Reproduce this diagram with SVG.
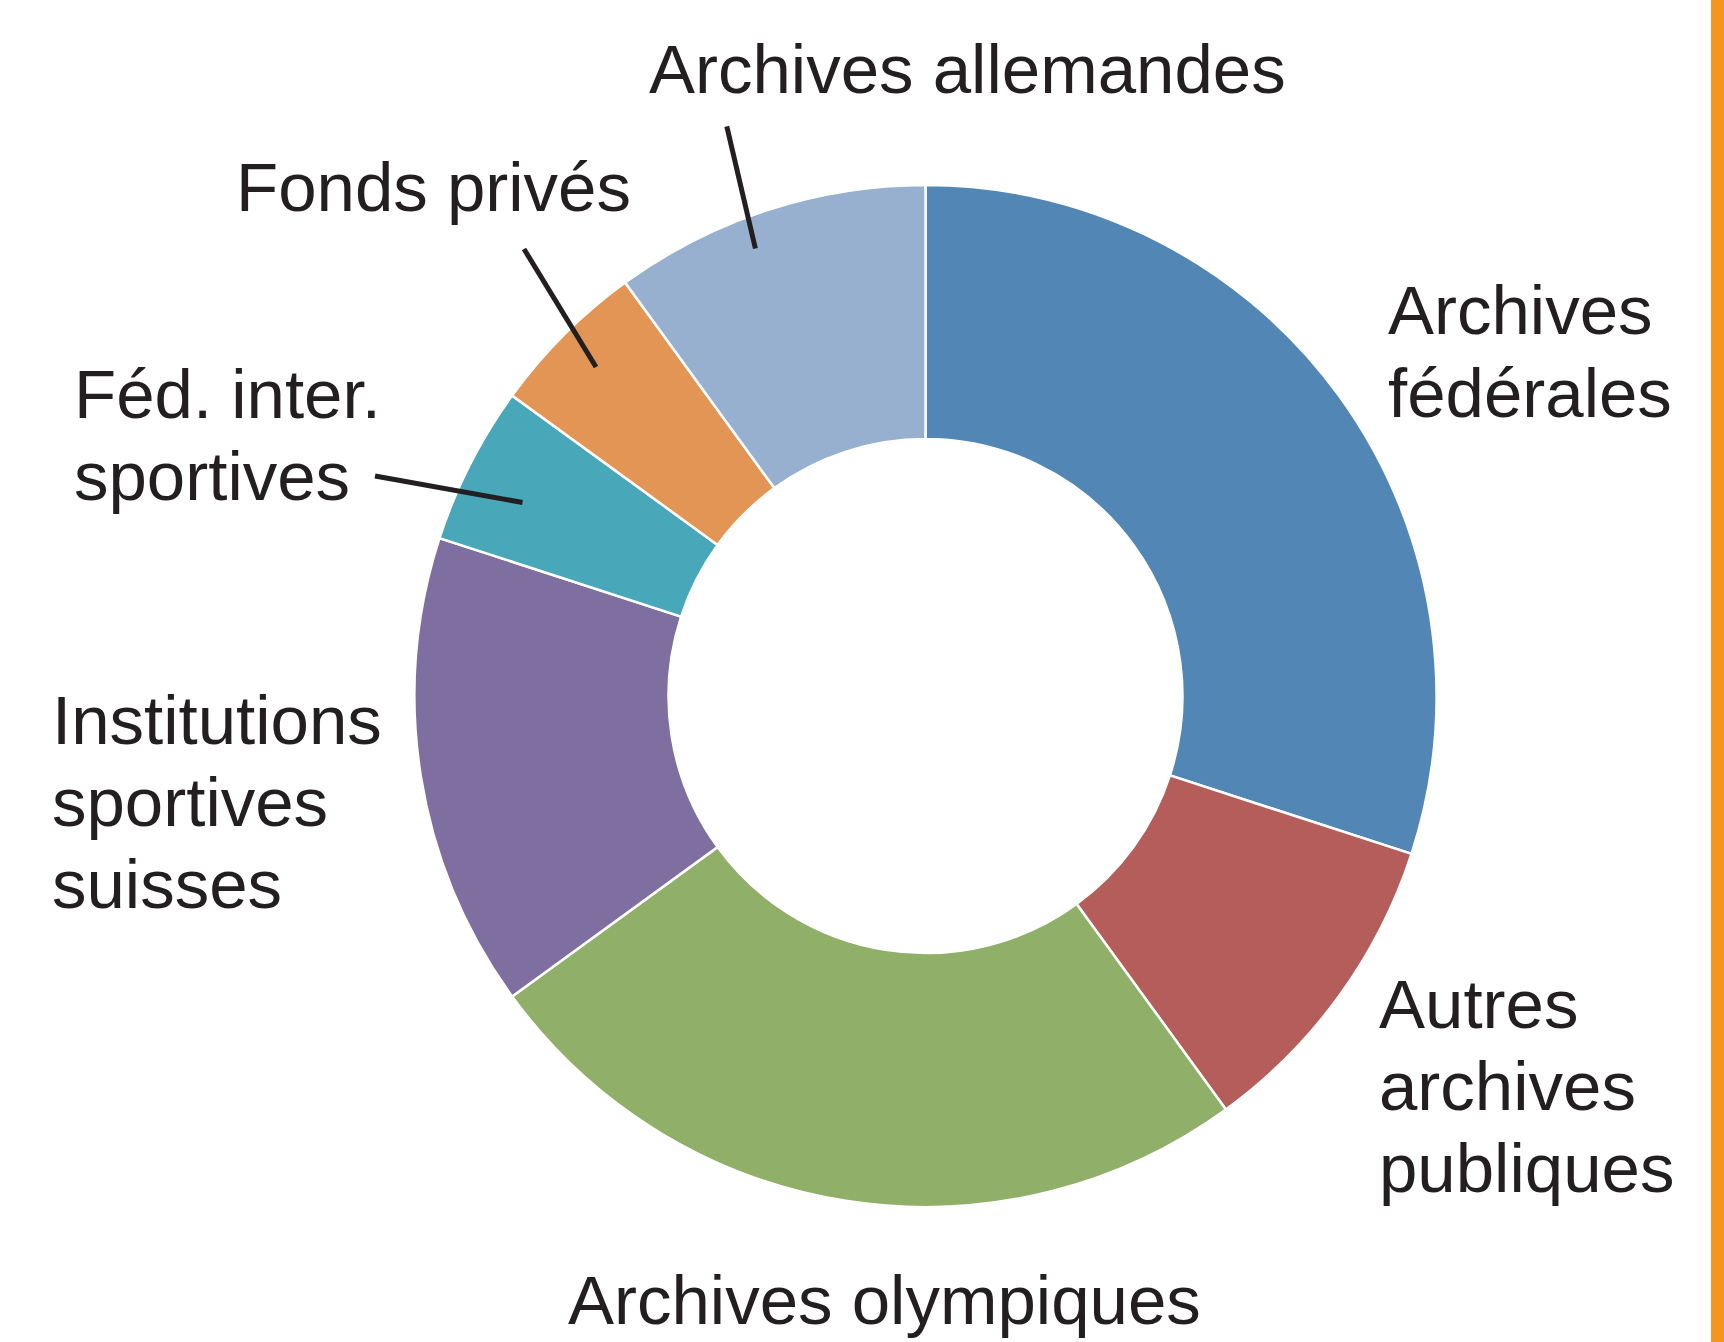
<svg xmlns="http://www.w3.org/2000/svg" width="1724" height="1342" viewBox="0 0 1724 1342">
<style>
.seg{stroke:#ffffff;stroke-width:2.5;stroke-linejoin:miter}
.lbl{font-family:"Liberation Sans",Arial,Helvetica,sans-serif;font-size:69px;fill:#231f20}
.lead{stroke:#231f20;stroke-width:5;fill:none}
</style>
<rect x="0" y="0" width="1724" height="1342" fill="#ffffff"/>
<rect x="1711" y="0" width="13" height="1342" fill="#f7941d"/>
<g id="ring">
<path id="seg-federales" class="seg" fill="#5287b5" d="M925.5,185 A511,511 0 0 1 1411.5,853.9 L1169.9,775.4 A257,257 0 0 0 925.5,439 Z"/>
<path id="seg-autres" class="seg" fill="#b55d5a" d="M1411.5,853.9 A511,511 0 0 1 1225.9,1109.4 L1076.6,903.9 A257,257 0 0 0 1169.9,775.4 Z"/>
<path id="seg-olympiques" class="seg" fill="#90af69" d="M1225.9,1109.4 A511,511 0 0 1 512.1,996.4 L717.6,847.1 A257,257 0 0 0 1076.6,903.9 Z"/>
<path id="seg-institutions" class="seg" fill="#7f6ea0" d="M512.1,996.4 A511,511 0 0 1 439.5,538.1 L681.1,616.6 A257,257 0 0 0 717.6,847.1 Z"/>
<path id="seg-fed" class="seg" fill="#48a7b9" d="M439.5,538.1 A511,511 0 0 1 512.1,395.6 L717.6,544.9 A257,257 0 0 0 681.1,616.6 Z"/>
<path id="seg-prives" class="seg" fill="#e29554" d="M512.1,395.6 A511,511 0 0 1 625.1,282.6 L774.4,488.1 A257,257 0 0 0 717.6,544.9 Z"/>
<path id="seg-allemandes" class="seg" fill="#97b0d0" d="M625.1,282.6 A511,511 0 0 1 925.5,185 L925.5,439 A257,257 0 0 0 774.4,488.1 Z"/>
</g>
<g id="connectors">
<line class="lead" x1="726.8" y1="126.4" x2="755.4" y2="248.5"/>
<line class="lead" x1="524" y1="249" x2="596" y2="367"/>
<line class="lead" x1="375" y1="476" x2="522.5" y2="502.5"/>
</g>
<g id="label-allemandes"><text class="lbl" x="649" y="93">Archives allemandes</text></g>
<g id="label-prives"><text class="lbl" x="236" y="211">Fonds privés</text></g>
<g id="label-fed"><text class="lbl" x="74" y="418">Féd. inter.</text><text class="lbl" x="74" y="500">sportives</text></g>
<g id="label-federales"><text class="lbl" x="1388" y="334">Archives</text><text class="lbl" x="1388" y="417">fédérales</text></g>
<g id="label-institutions"><text class="lbl" x="52" y="744">Institutions</text><text class="lbl" x="52" y="826">sportives</text><text class="lbl" x="52" y="908">suisses</text></g>
<g id="label-autres"><text class="lbl" x="1379" y="1028">Autres</text><text class="lbl" x="1379" y="1110">archives</text><text class="lbl" x="1379" y="1192">publiques</text></g>
<g id="label-olympiques"><text class="lbl" x="568" y="1324">Archives olympiques</text></g>
</svg>
